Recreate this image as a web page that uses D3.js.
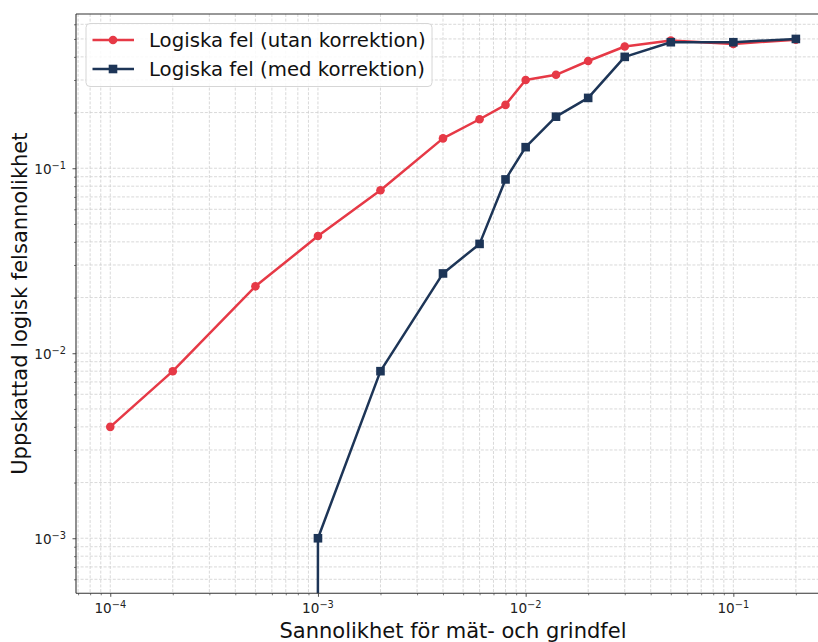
<!DOCTYPE html>
<html>
<head>
<meta charset="utf-8">
<script src="https://cdn.jsdelivr.net/npm/d3@7/dist/d3.min.js"></script>
<style>
  html, body { margin: 0; padding: 0; background: #ffffff; }
  svg { display: block; font-family: "DejaVu Sans", sans-serif; }
</style>
</head>
<body>
<svg id="chart" width="818" height="642"></svg>
<script>
// Physical error rate (measurement and gate errors)
const errorRates = [1e-4, 2e-4, 5e-4, 1e-3, 2e-3, 4e-3, 6e-3, 8e-3, 1e-2, 1.4e-2, 2e-2, 3e-2, 5e-2, 1e-1, 2e-1];
// Estimated logical error probability without correction
const logicalUncorrected = [0.004, 0.008, 0.023, 0.043, 0.076, 0.145, 0.184, 0.22, 0.30, 0.32, 0.38, 0.455, 0.49, 0.47, 0.495];
// Estimated logical error probability with correction (0 = no logical errors observed)
const logicalCorrected = [0, 0, 0, 0.001, 0.008, 0.027, 0.039, 0.087, 0.13, 0.19, 0.24, 0.40, 0.48, 0.48, 0.50];

const seriesNames = ["Logiska fel (utan korrektion)", "Logiska fel (med korrektion)"];
const xTickExponents = [-4, -3, -2, -1];
const yTickExponents = [-3, -2, -1];
const xTitle = "Sannolikhet för mät- och grindfel";
const yTitle = "Uppskattad logisk felsannolikhet";

const RED = "#e63946", NAVY = "#1d3557";

const svg = d3.select("#chart");
const plot = { left: 76, right: 830, top: 14, bottom: 593.3 };

const x = d3.scaleLog().domain([6.84e-5, 0.292]).range([plot.left, plot.right]);
const y = d3.scaleLog().domain([5.04e-4, 0.682]).range([plot.bottom, plot.top]);

// Non-positive values are clipped to a tiny positive number, like a log axis does
const clipVal = v => (v > 0 ? v : 1e-300);

svg.append("defs").append("clipPath").attr("id", "plotClip")
  .append("rect")
  .attr("x", plot.left).attr("y", plot.top)
  .attr("width", plot.right - plot.left).attr("height", plot.bottom - plot.top);

// Minor and major tick values across the visible domain
function logTicks(scale) {
  const [a, b] = scale.domain();
  const major = [], minor = [];
  for (let e = Math.floor(Math.log10(a)); e <= Math.ceil(Math.log10(b)); e++) {
    for (let m = 1; m <= 9; m++) {
      const v = m * Math.pow(10, e);
      if (v < a * 0.9999 || v > b * 1.0001) continue;
      (m === 1 ? major : minor).push(v);
    }
  }
  return { major, minor };
}
const xt = logTicks(x), yt = logTicks(y);

// Grid (both major and minor), dashed
const grid = svg.append("g").attr("clip-path", "url(#plotClip)");
grid.selectAll("line.gx").data(xt.major.concat(xt.minor)).join("line")
  .attr("x1", d => x(d)).attr("x2", d => x(d))
  .attr("y1", plot.top).attr("y2", plot.bottom)
  .attr("stroke", "#cfcfcf").attr("stroke-width", 0.8).attr("stroke-dasharray", "3,1.6");
grid.selectAll("line.gy").data(yt.major.concat(yt.minor)).join("line")
  .attr("y1", d => y(d)).attr("y2", d => y(d))
  .attr("x1", plot.left).attr("x2", plot.right)
  .attr("stroke", "#cfcfcf").attr("stroke-width", 0.8).attr("stroke-dasharray", "3,1.6");

// Axes with log ticks
const xAxisMajor = d3.axisBottom(x).tickValues(xt.major).tickSize(3.5).tickFormat("");
const xAxisMinor = d3.axisBottom(x).tickValues(xt.minor).tickSize(2).tickFormat("");
const yAxisMajor = d3.axisLeft(y).tickValues(yt.major).tickSize(3.5).tickFormat("");
const yAxisMinor = d3.axisLeft(y).tickValues(yt.minor).tickSize(2).tickFormat("");

function styleAxis(g, w) {
  g.select(".domain").remove();
  g.selectAll(".tick line").attr("stroke", "#222").attr("stroke-width", w);
}
svg.append("g").attr("transform", `translate(0,${plot.bottom})`).call(xAxisMajor).call(g => styleAxis(g, 0.8));
svg.append("g").attr("transform", `translate(0,${plot.bottom})`).call(xAxisMinor).call(g => styleAxis(g, 0.6));
svg.append("g").attr("transform", `translate(${plot.left},0)`).call(yAxisMajor).call(g => styleAxis(g, 0.8));
svg.append("g").attr("transform", `translate(${plot.left},0)`).call(yAxisMinor).call(g => styleAxis(g, 0.6));

// Tick labels as 10^n
function powerLabel(g, exp) {
  g.append("tspan").text("10");
  g.append("tspan").attr("dy", "-0.5em").attr("font-size", "9.8px").text("\u2212" + Math.abs(exp));
}
xTickExponents.forEach(e => {
  const t = svg.append("text")
    .attr("x", x(Math.pow(10, e))).attr("y", 612.5)
    .attr("text-anchor", "middle").attr("font-size", "13.6px").attr("fill", "#222");
  powerLabel(t, e);
});
yTickExponents.forEach(e => {
  const t = svg.append("text")
    .attr("x", 66).attr("y", y(Math.pow(10, e)) + 5.5)
    .attr("text-anchor", "end").attr("font-size", "13.6px").attr("fill", "#222");
  powerLabel(t, e);
});

// Series lines and markers
const line = d3.line().x(d => x(d[0])).y(d => y(clipVal(d[1])));
const series = [
  { name: seriesNames[0], values: logicalUncorrected, color: RED, marker: "circle" },
  { name: seriesNames[1], values: logicalCorrected, color: NAVY, marker: "square" }
];
const marks = svg.append("g").attr("clip-path", "url(#plotClip)");
series.forEach(s => {
  const pts = errorRates.map((r, i) => [r, s.values[i]]);
  marks.append("path").datum(pts)
    .attr("d", line).attr("fill", "none")
    .attr("stroke", s.color).attr("stroke-width", 2.5).attr("stroke-linejoin", "round");
  const visible = pts.filter(p => p[1] > 0);
  if (s.marker === "circle") {
    marks.selectAll(null).data(visible).join("circle")
      .attr("cx", d => x(d[0])).attr("cy", d => y(d[1])).attr("r", 4.3)
      .attr("fill", s.color);
  } else {
    marks.selectAll(null).data(visible).join("rect")
      .attr("x", d => x(d[0]) - 4.3).attr("y", d => y(d[1]) - 4.3)
      .attr("width", 8.6).attr("height", 8.6)
      .attr("fill", s.color);
  }
});

// Spines (left, top, bottom; right edge lies past the canvas)
svg.append("g").attr("stroke", "#333").attr("stroke-width", 1.1).attr("fill", "none")
  .call(g => {
    g.append("line").attr("x1", plot.left).attr("x2", plot.left).attr("y1", plot.top).attr("y2", plot.bottom);
    g.append("line").attr("x1", plot.left).attr("x2", plot.right).attr("y1", plot.top).attr("y2", plot.top);
    g.append("line").attr("x1", plot.left).attr("x2", plot.right).attr("y1", plot.bottom).attr("y2", plot.bottom);
    g.append("line").attr("x1", plot.right).attr("x2", plot.right).attr("y1", plot.top).attr("y2", plot.bottom);
  });

// Axis titles
svg.append("text").attr("x", (plot.left + plot.right) / 2).attr("y", 638)
  .attr("text-anchor", "middle").attr("font-size", "21px").attr("fill", "#111").text(xTitle);
svg.append("text")
  .attr("transform", `translate(27,${(plot.top + plot.bottom) / 2}) rotate(-90)`)
  .attr("text-anchor", "middle").attr("font-size", "21px").attr("fill", "#111").text(yTitle);

// Legend
const legend = svg.append("g").attr("transform", "translate(86,23.5)");
legend.append("rect").attr("width", 346).attr("height", 63).attr("rx", 4)
  .attr("fill", "#ffffff").attr("fill-opacity", 0.85)
  .attr("stroke", "#d6d6d6").attr("stroke-width", 1);
series.forEach((s, i) => {
  const cy = 16.5 + i * 29;
  legend.append("line").attr("x1", 6.5).attr("x2", 48).attr("y1", cy).attr("y2", cy)
    .attr("stroke", s.color).attr("stroke-width", 2.5);
  if (s.marker === "circle") {
    legend.append("circle").attr("cx", 27).attr("cy", cy).attr("r", 4.3).attr("fill", s.color);
  } else {
    legend.append("rect").attr("x", 27 - 4.3).attr("y", cy - 4.3).attr("width", 8.6).attr("height", 8.6).attr("fill", s.color);
  }
  legend.append("text").attr("x", 63).attr("y", cy + 7).attr("font-size", "19.7px").attr("fill", "#111").text(s.name);
});
</script>
</body>
</html>
